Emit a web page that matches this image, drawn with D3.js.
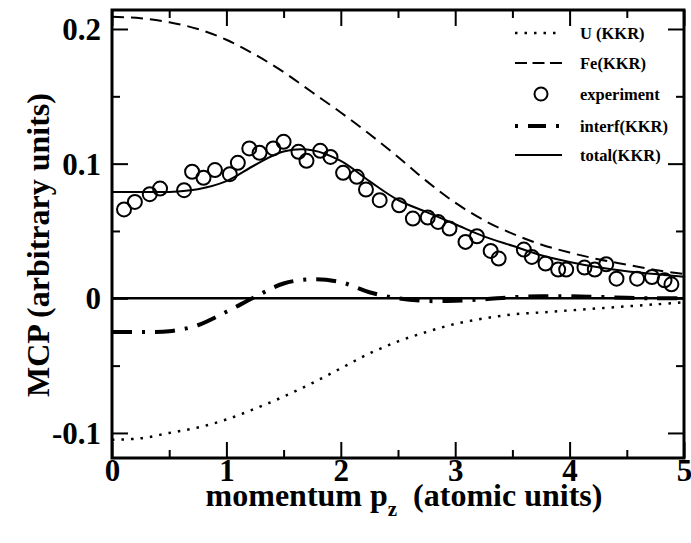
<!DOCTYPE html>
<meta charset="utf-8">
<script src="https://d3js.org/d3.v7.min.js"></script>
<style>
  body { margin: 0; background: #fff; }
  text { font-family: "Liberation Serif", "Times New Roman", serif; font-weight: bold; fill: #000; }
</style>
<body>
<script>

// calculated curves, sampled every 0.25 a.u.
var momentum  = [0, 0.25, 0.5, 0.75, 1, 1.25, 1.5, 1.75, 2, 2.25, 2.5, 2.75, 3, 3.25, 3.5, 3.75, 4, 4.25, 4.5, 4.75, 5];
var feKKR     = [0.209, 0.208, 0.205, 0.200, 0.192, 0.181, 0.168, 0.153, 0.138, 0.122, 0.105, 0.087, 0.071, 0.058, 0.048, 0.040, 0.034, 0.029, 0.025, 0.021, 0.018];
var uKKR      = [-0.105, -0.104, -0.100, -0.096, -0.090, -0.082, -0.073, -0.063, -0.052, -0.041, -0.032, -0.025, -0.019, -0.015, -0.012, -0.0105, -0.009, -0.0075, -0.006, -0.0045, -0.003];
var interfKKR = [-0.025, -0.025, -0.0245, -0.020, -0.010, 0.001, 0.011, 0.0142, 0.012, 0.0045, 0.0, -0.002, -0.0018, -0.0008, 0.0008, 0.0015, 0.0015, 0.001, 0.0004, 0.0, 0.0];
var totalKKR  = [0.079, 0.079, 0.079, 0.081, 0.087, 0.099, 0.109, 0.110, 0.102, 0.087, 0.073, 0.064, 0.055, 0.046, 0.039, 0.032, 0.027, 0.023, 0.020, 0.018, 0.016];

// measured points
var expP   = [0.105, 0.20, 0.33, 0.42, 0.63, 0.70, 0.80, 0.90, 1.03, 1.10, 1.20, 1.29, 1.41, 1.50, 1.63, 1.70, 1.82, 1.91, 2.02, 2.14, 2.22, 2.34, 2.51,
              2.63, 2.76, 2.85, 2.95, 3.09, 3.19, 3.31, 3.38, 3.60, 3.67, 3.79, 3.90, 3.97, 4.13, 4.22, 4.32, 4.41, 4.59, 4.72, 4.83, 4.89];
var expMCP = [0.066, 0.0716, 0.0773, 0.0815, 0.0803, 0.094, 0.0895, 0.0952, 0.0922, 0.1006, 0.1113, 0.108, 0.1113, 0.1162, 0.1088, 0.1021, 0.1095, 0.105, 0.0932, 0.0902, 0.0808, 0.0729, 0.0691,
              0.0592, 0.060, 0.0567, 0.0518, 0.0419, 0.0461, 0.0352, 0.0295, 0.0362, 0.0307, 0.0258, 0.0213, 0.0213, 0.0228, 0.0213, 0.0253, 0.0146, 0.0146, 0.0158, 0.0134, 0.0104];

var xMajor = [0, 1, 2, 3, 4, 5];
var xMinor = [0.5, 1.5, 2.5, 3.5, 4.5];
var yMajor = [-0.1, 0, 0.1, 0.2];
var yMinor = [-0.05, 0.05, 0.15];
var yTickLabels = ["-0.1", "0", "0.1", "0.2"];
var legendLabels = ["U (KKR)", "Fe(KKR)", "experiment", "interf(KKR)", "total(KKR)"];

var W = 691, H = 543;
var pl = 112, pr = 684, pt = 10, pb = 458;

var x = d3.scaleLinear().domain([0, 5]).range([pl, pr]);
var y = d3.scaleLinear().domain([-0.1186, 0.2141]).range([pb, pt]);

var svg = d3.select("body").append("svg")
    .attr("width", W)
    .attr("height", H);

function ticks(axis, tx, ty) {
  var g = svg.append("g")
      .attr("transform", "translate(" + tx + "," + ty + ")")
      .call(axis);
  g.select(".domain").remove();
  g.selectAll(".tick line").attr("stroke", "#000").attr("stroke-width", 2);
  return g;
}

// major ticks with labels
var gl = ticks(d3.axisLeft(y).tickValues(yMajor).tickSize(-16)
    .tickFormat(function(d, i) { return yTickLabels[i]; }), pl, 0);
gl.selectAll(".tick text")
    .attr("x", -11).attr("dy", "0.34em")
    .style("font-size", "31px");

var gb = ticks(d3.axisBottom(x).tickValues(xMajor).tickSize(-16).tickFormat(d3.format("d")), 0, pb);
gb.selectAll(".tick text")
    .attr("y", 23).attr("dy", 0)
    .style("font-size", "31px");

ticks(d3.axisRight(y).tickValues(yMajor).tickSize(-16).tickFormat(""), pr, 0);
ticks(d3.axisTop(x).tickValues(xMajor).tickSize(-16).tickFormat(""), 0, pt);

// minor ticks
ticks(d3.axisLeft(y).tickValues(yMinor).tickSize(-8).tickFormat(""), pl, 0);
ticks(d3.axisRight(y).tickValues(yMinor).tickSize(-8).tickFormat(""), pr, 0);
ticks(d3.axisBottom(x).tickValues(xMinor).tickSize(-8).tickFormat(""), 0, pb);
ticks(d3.axisTop(x).tickValues(xMinor).tickSize(-8).tickFormat(""), 0, pt);

// zero line
svg.append("line")
    .attr("x1", x(0)).attr("x2", x(5))
    .attr("y1", y(0)).attr("y2", y(0))
    .attr("stroke", "#000").attr("stroke-width", 2.5);

var line = d3.line()
    .x(function(d, i) { return x(momentum[i]); })
    .y(function(d) { return y(d); })
    .curve(d3.curveCatmullRom);

var styles = [
  {data: uKKR, width: 2.5, dash: "2.5,7"},
  {data: feKKR, width: 2, dash: "12,7"},
  {data: interfKKR, width: 4, dash: "20,10,3,10"},
  {data: totalKKR, width: 2, dash: null}
];

styles.forEach(function(s) {
  svg.append("path")
      .datum(s.data)
      .attr("d", line)
      .attr("fill", "none")
      .attr("stroke", "#000")
      .attr("stroke-width", s.width)
      .attr("stroke-dasharray", s.dash);
});

svg.append("g").selectAll("circle")
    .data(expP)
  .enter().append("circle")
    .attr("cx", function(d) { return x(d); })
    .attr("cy", function(d, i) { return y(expMCP[i]); })
    .attr("r", 7)
    .attr("fill", "none")
    .attr("stroke", "#000")
    .attr("stroke-width", 2);

// frame
svg.append("rect")
    .attr("x", pl).attr("y", pt)
    .attr("width", pr - pl).attr("height", pb - pt)
    .attr("fill", "none").attr("stroke", "#000").attr("stroke-width", 3);

// legend
var legRows = [33, 63, 94, 126, 155];
var leg = svg.append("g");
legendLabels.forEach(function(lab, i) {
  var ly = legRows[i];
  if (i == 2) {
    leg.append("circle").attr("cx", 541).attr("cy", ly).attr("r", 6.5)
        .attr("fill", "none").attr("stroke", "#000").attr("stroke-width", 2);
  } else {
    var s = [styles[0], styles[1], null, styles[2], styles[3]][i];
    leg.append("line")
        .attr("x1", 515).attr("x2", 562).attr("y1", ly).attr("y2", ly)
        .attr("stroke", "#000").attr("stroke-width", s.width)
        .attr("stroke-dasharray", i == 1 ? "12,5.5" : (i == 3 ? "18,10,3,10" : s.dash))
        .attr("stroke-dashoffset", i == 3 ? 28 : 0);
  }
  leg.append("text")
      .attr("x", 580).attr("y", ly + 5.5)
      .style("font-size", "16.5px")
      .text(lab);
});

// axis titles
var xt = svg.append("text")
    .attr("x", (pl + pr) / 2 + 6).attr("y", 506)
    .attr("text-anchor", "middle")
    .style("font-size", "32px");
xt.append("tspan").text("momentum p");
xt.append("tspan").attr("dy", 10).style("font-size", "21px").text("z");
xt.append("tspan").attr("dy", -10).text("\u00a0 (atomic units)");

svg.append("text")
    .attr("transform", "translate(49," + ((pt + pb) / 2 + 11) + ") rotate(-90)")
    .attr("text-anchor", "middle")
    .style("font-size", "32px")
    .text("MCP (arbitrary units)");

</script>
</body>
